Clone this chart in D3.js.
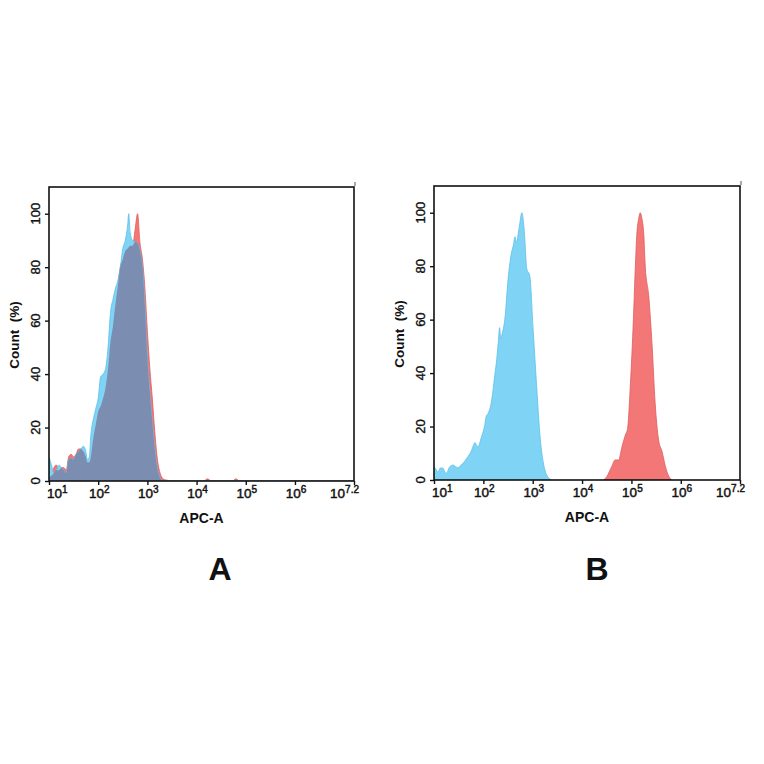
<!DOCTYPE html>
<html><head><meta charset="utf-8">
<script src="https://cdn.jsdelivr.net/npm/d3@7"></script>
<style>
html,body{margin:0;padding:0;background:#fff}
svg{display:block}
text{font-family:"Liberation Sans",Arial,sans-serif;fill:#111}
</style>
</head><body>
<svg id="c" width="764" height="764"></svg>
<script>
// ---------- data (x = log10 of APC-A intensity, y = Count %) ----------
const yTicks = [0, 20, 40, 60, 80, 100];
const xTickExps = [1, 2, 3, 4, 5, 6, 7.2];
const xTickLabels = ["1", "2", "3", "4", "5", "6", "7.2"];

// Panel A: common grid so overlap can be computed
const xGridA = [1.0,1.05,1.1,1.15,1.2,1.25,1.3,1.35,1.4,1.45,1.5,1.55,1.6,1.65,1.7,1.75,1.78,1.82,1.85,1.9,1.95,2.0,2.05,2.1,2.15,2.2,2.25,2.3,2.35,2.4,2.45,2.5,2.55,2.6,2.62,2.65,2.7,2.75,2.8,2.85,2.9,2.95,3.0,3.05,3.1,3.15,3.2,3.25,3.3,3.35,3.4,3.5,4.15,4.22,4.3,4.73,4.8,4.87,7.2];
const blueA = [9,6,3,4,6,5,4,3,8,8.5,8,10,11,12,13,11,8,9,17,23,27,31,39,40,42,50,63,68,72,75,80,87,90,96,100,93,90,89.5,89,86,80,65,46,33,22,12,5,1.5,0.3,0,0,0,0,0,0,0,0,0,0];
const redA  = [1.5,2,5,6,4,5,5,4,9,10,9,10,12,12,11,9,7,7,9,16,21,26,28,31,35,42,52,58,66,73,80,83,86,87,87.5,88,88,94,100,89,83,72,56,42,31,18.5,8.6,3.5,1.2,0.5,0.3,0,0,0.8,0,0,0.8,0,0];

// Panel B
const blueBx = [1.0,1.04,1.08,1.13,1.18,1.22,1.25,1.32,1.39,1.44,1.49,1.54,1.59,1.64,1.69,1.76,1.8,1.83,1.86,1.89,1.96,2.03,2.06,2.1,2.17,2.23,2.27,2.3,2.33,2.35,2.37,2.44,2.5,2.57,2.61,2.64,2.67,2.73,2.78,2.83,2.88,2.94,3.01,3.08,3.15,3.22,3.28,3.38];
const blueBy = [5,4,3,4.5,4.5,3,2.5,5,5.6,5,4.6,5.5,6.3,7.5,8.8,11,13,14,13,12.5,16,20.7,24,25,30,39,45,51,57,53,54,61,75,85,88,91,89,95,100,93,79,76.5,56,35,16,6,2,0];
const redBx = [4.43,4.5,4.55,4.6,4.67,4.74,4.81,4.88,4.92,4.98,5.04,5.08,5.11,5.15,5.18,5.21,5.25,5.28,5.35,5.42,5.48,5.55,5.62,5.69,5.76,5.82];
const redBy = [0,1.2,3,5,7.5,7.5,12.5,17,19,36,60,80,92,98,100,98,92,80,69,50,29,15,10.7,5,1.3,0];

// ---------- styles ----------
const C = {
  blue: "#7fd3f4", blueLine: "#5cc0ea",
  red: "#f47777", redLine: "#e05a5a",
  over: "#7b8db1"
};

const panels = [
  { label: "A", box: [49, 187, 354, 481], letterX: 220,
    series: [
      { xs: xGridA, ys: redA, fill: C.red, stroke: C.redLine },
      { xs: xGridA, ys: blueA, fill: C.blue, stroke: C.blueLine },
      { xs: xGridA, ys: xGridA.map((_, i) => Math.min(blueA[i], redA[i])), fill: C.over, stroke: "none" }
    ] },
  { label: "B", box: [434, 186, 740, 480], letterX: 597,
    series: [
      { xs: blueBx, ys: blueBy, fill: C.blue, stroke: C.blueLine },
      { xs: redBx, ys: redBy, fill: C.red, stroke: C.redLine }
    ] }
];

const svg = d3.select("#c");

panels.forEach((p, pi) => {
  const [L, T, R, B] = p.box;
  const x = d3.scaleLinear().domain([1, 7.2]).range([L, R]);
  const y = d3.scaleLinear().domain([0, 110]).range([B, T]);
  const g = svg.append("g");

  const clipId = "clip" + pi;
  g.append("clipPath").attr("id", clipId).append("rect")
    .attr("x", L).attr("y", T).attr("width", R - L).attr("height", B - T);

  const area = d3.area()
    .x(d => x(d[0])).y0(y(0)).y1(d => y(d[1]))
    .curve(d3.curveMonotoneX);

  const plot = g.append("g").attr("clip-path", `url(#${clipId})`);
  p.series.forEach(s => {
    const pts = s.xs.map((v, i) => [v, s.ys[i]]);
    plot.append("path").datum(pts)
      .attr("d", area)
      .attr("fill", s.fill)
      .attr("stroke", s.stroke)
      .attr("stroke-width", s.stroke === "none" ? 0 : 0.8)
      .attr("stroke-linejoin", "round");
  });

  // frame
  g.append("rect").attr("x", L).attr("y", T).attr("width", R - L).attr("height", B - T)
    .attr("fill", "none").attr("stroke", "#111").attr("stroke-width", 1.6);
  // tiny mark above top-right corner
  g.append("line").attr("x1", R + 1).attr("x2", R + 1).attr("y1", T - 5).attr("y2", T - 1)
    .attr("stroke", "#555").attr("stroke-width", 1);

  // x axis ticks
  const xAxis = d3.axisBottom(x).tickValues(xTickExps).tickSize(4).tickFormat("");
  const gx = g.append("g").attr("transform", `translate(0,${B})`).call(xAxis);
  gx.select(".domain").remove();
  gx.selectAll(".tick line").attr("stroke", "#111").attr("stroke-width", 1.4);

  // x tick labels 10^n
  xTickExps.forEach((e, i) => {
    const last = i === xTickExps.length - 1, first = i === 0;
    const t = g.append("text")
      .attr("x", x(e) + (first ? -2 : last ? 5 : 1))
      .attr("y", B + 17)
      .attr("text-anchor", first ? "start" : last ? "end" : "middle")
      .attr("font-size", 13.5)
      .attr("stroke", "#111").attr("stroke-width", 0.45);
    t.append("tspan").text("10");
    t.append("tspan").attr("dy", -5).attr("font-size", 10).text(xTickLabels[i]);
  });

  // y axis ticks
  const yAxis = d3.axisLeft(y).tickValues(yTicks).tickSize(4).tickFormat("");
  const gy = g.append("g").attr("transform", `translate(${L},0)`).call(yAxis);
  gy.select(".domain").remove();
  gy.selectAll(".tick line").attr("stroke", "#111").attr("stroke-width", 1.4);

  yTicks.forEach(v => {
    g.append("text")
      .attr("transform", `translate(${L - 9.5},${y(v)}) rotate(-90)`)
      .attr("text-anchor", "middle")
      .attr("font-size", 13)
      .attr("stroke", "#111").attr("stroke-width", 0.35)
      .text(v);
  });

  // axis titles
  g.append("text")
    .attr("transform", `translate(${L - 30},${(T + B) / 2 + 1}) rotate(-90)`)
    .attr("text-anchor", "middle")
    .attr("font-size", 13.5).attr("font-weight", "bold")
    .attr("xml:space", "preserve").style("white-space", "pre")
    .text("Count  (%)");
  g.append("text")
    .attr("x", (L + R) / 2).attr("y", B + 42)
    .attr("text-anchor", "middle")
    .attr("font-size", 14).attr("font-weight", "bold")
    .text("APC-A");

  // panel letter
  g.append("text")
    .attr("x", p.letterX).attr("y", 580)
    .attr("text-anchor", "middle")
    .attr("font-size", 32).attr("font-weight", "bold")
    .text(p.label);
});
</script>
</body></html>
